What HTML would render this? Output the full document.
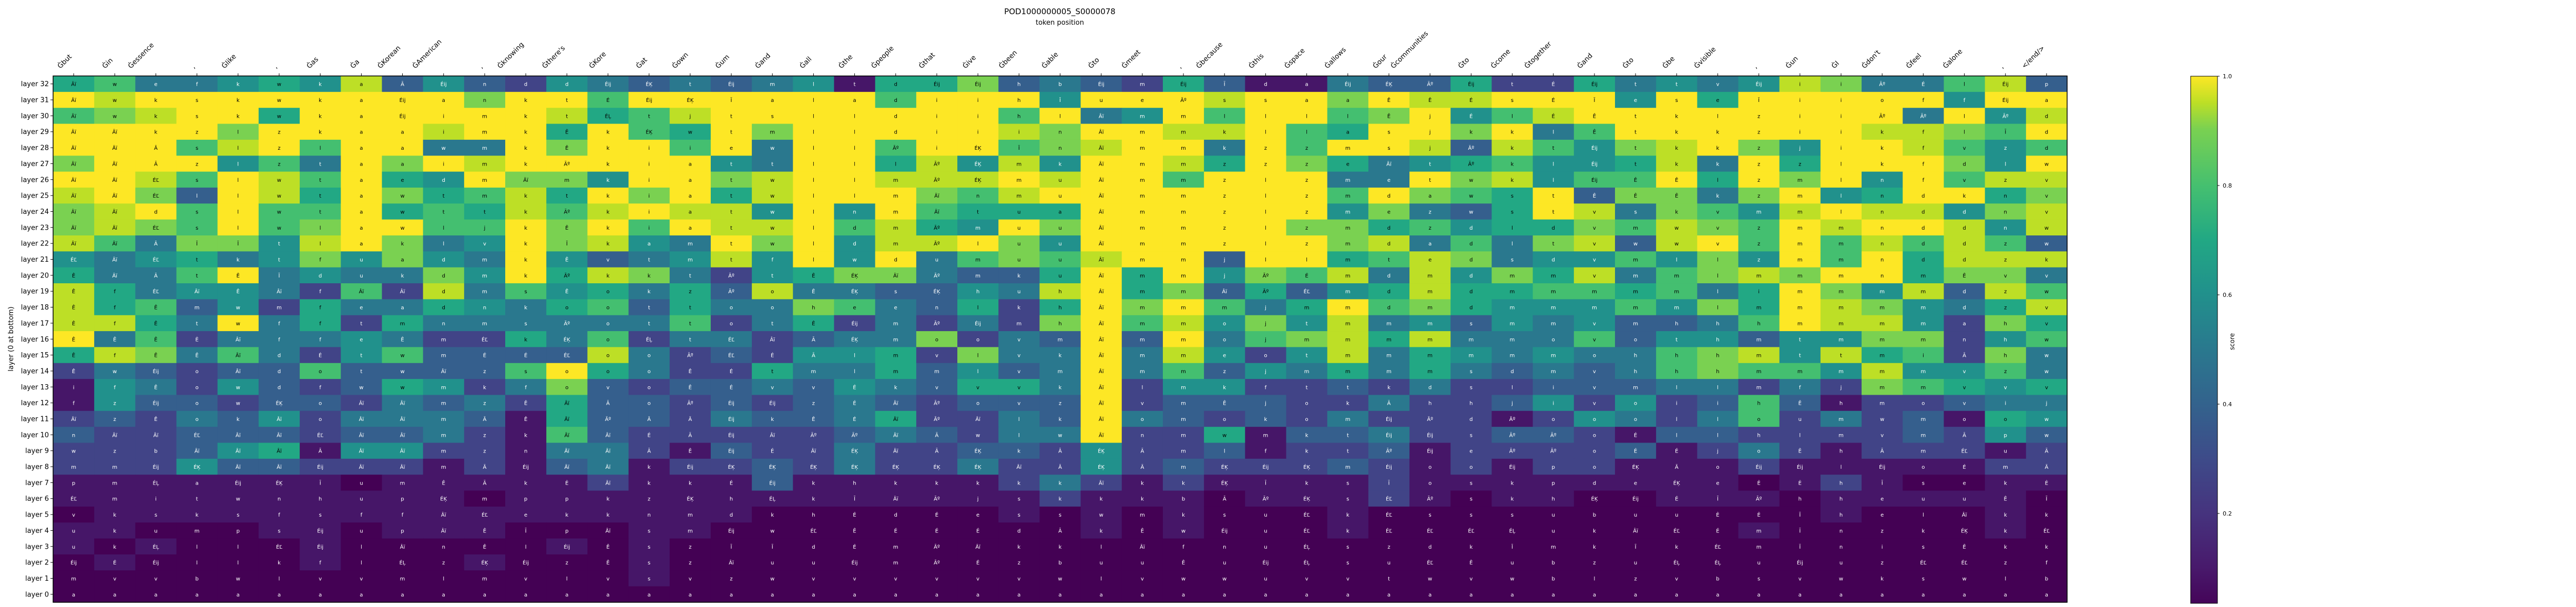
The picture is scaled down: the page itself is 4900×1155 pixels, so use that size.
<!DOCTYPE html>
<html><head><meta charset="utf-8"><style>
html,body{margin:0;padding:0;background:#fff;}
svg{display:block;font-family:"DejaVu Sans","Liberation Sans",sans-serif;}
</style></head><body>
<svg id="chart" width="4900" height="1155" viewBox="0 0 4900 1155" xmlns="http://www.w3.org/2000/svg">
<defs>
<linearGradient id="vir" x1="0" y1="1" x2="0" y2="0">
<stop offset="0" stop-color="#450559"/><stop offset="0.07" stop-color="#481a6c"/><stop offset="0.17" stop-color="#46337e"/><stop offset="0.27" stop-color="#3e4a89"/><stop offset="0.38" stop-color="#33638d"/><stop offset="0.48" stop-color="#2a788e"/><stop offset="0.59" stop-color="#21918c"/><stop offset="0.69" stop-color="#22a884"/><stop offset="0.79" stop-color="#44bf70"/><stop offset="0.9" stop-color="#7ad151"/><stop offset="0.95" stop-color="#bddf26"/><stop offset="1" stop-color="#fde725"/>
</linearGradient>
</defs>
<text x="2016" y="27" font-size="15" text-anchor="middle">POD1000000005_S0000078</text>
<text x="2016" y="47" font-size="13" text-anchor="middle">token position</text>
<text transform="translate(25,645) rotate(-90)" font-size="13" text-anchor="middle">layer (0 at bottom)</text>
<g id="cells"></g>
<g id="xticks"></g>
<g id="yticks"></g>
<rect x="101" y="144.5" width="3831" height="1001.5" fill="none" stroke="#000" stroke-width="1.5"/>
<rect x="4167" y="145" width="51" height="1003" fill="url(#vir)" stroke="#000" stroke-width="1"/>
<g id="cbticks"></g>
<text transform="translate(4250,650) rotate(-90)" font-size="12" text-anchor="middle">score</text>
</svg>
<script>
const tokens = ["Ġbut","Ġin","Ġessence",",","Ġlike",",","Ġas","Ġa","ĠKorean","ĠAmerican",",","Ġknowing","Ġthere's","ĠKore","Ġat","Ġown","Ġum","Ġand","Ġall","Ġthe","Ġpeople","Ġthat","Ġive","Ġbeen","Ġable","Ġto","Ġmeet",",","Ġbecause","Ġthis","Ġspace","Ġallows","Ġour","Ġcommunities","Ġto","Ġcome","Ġtogether","Ġand","Ġto","Ġbe","Ġvisible",",","Ġun","ĠI","Ġdon't","Ġfeel","Ġalone",",","</end/>"];
const layers = Array.from({length:33},(_,i)=>32-i);
// score rows, layer 32 first; digits are tenths, x = 1.0
const scoreRows = [
"67445659353254343"+"4516683432631143"+"3622645459844793",
"x9xxxxxxxx8xx7xxx"+"xxx7xxx5xxx9xx8x"+"99xxx5x6xxxxx5xx",
"789xx6xxxxxx9679x"+"xxxxxx7x45x7xx78"+"x579xxxxxxxx4x59",
"xxxx8xxxx9xx6x76x"+"8xxxxx98xx99x76x"+"x8x47xxxxxx9987x",
"xxx79x7xx44x8xx7x"+"4xx7xx789xx4x7xx"+"9397589x85xx9757",
"8xxx574x8x9xxxxx5"+"4xx69595xx96x864"+"56755694x6xxx85x",
"xx97x97x65x885xx8"+"9xx999x9xx7xxx44"+"x89577x6x8x5x799",
"9x83x96x86796x8x6"+"9xxx879xxxxxxx7x"+"876x38848x56xx68",
"89x7x77x676979x99"+"5x5x7666xxxxxx58"+"436x948759x99589",
"8987x78xx77x8x7x9"+"9x7965x8xxxxx886"+"756687987x9xx959",
"9748859x845x8954x"+"8x599x85xxxxxx89"+"4748939x7x797973",
"54564585854x53459"+"5x5x47879xx3xx67"+"984557585x7x6999",
"6447x454485x69842"+"56884336x6x58794"+"9586947898xx6884",
"96455427294756463"+"94433549x6836356"+"966776746x859397",
"96735264465467364"+"48743626x8x746x7"+"865557586x985469",
"9964x462644444472"+"46242428x7958594"+"535453347x995286",
"x4724445422647244"+"23448243x3x47896"+"9444735535588257",
"69847425733339423"+"25562844x4952594"+"6545447895967284",
"243233733337x6422"+"64463534x4735464"+"6434347877595574",
"15425323652483233"+"43543664x2552232"+"4223334424287656",
"15332332434263323"+"23432333x2333224"+"2235252373122344",
"23243524443163324"+"33462243x4323242"+"2212542472423165",
"32233323342173222"+"22343244x2261334"+"2233213322223253",
"22235615522144213"+"2242233252231223"+"1222231242122212",
"22253322212134122"+"3242242252322232"+"1212211121111122",
"11111110111112111"+"3111112421211112"+"1111111101210011",
"11111111110111111"+"1111111211101112"+"1011001110111110",
"01111111111111111"+"0000001010100010"+"0000000000100010",
"11000110111000110"+"0000000010100010"+"0000000010000010",
"10100010000010100"+"0000000000000000"+"0000000000000000",
"01000010001000100"+"0000000000000000"+"0000000000000000",
"00000000000000100"+"0000000000000000"+"0000000000000000",
"00000000000000000"+"0000000000000000"+"0000000000000000"
];
const cellText = [
"Âï w e f k w k a Ā Éij n d d Éij ÉĶ t Éij m l t d Éij Éij h b Éij m Éij Ī d a Éij ÉĶ Āº Éij t É Éij t t v Éij i i Āº É l Éij p",
"Âï w k s k w k a Éij a n k t É Éij ÉĶ Ī a l a d i i h Ī u e Āº s s a a Ê Ê É s É Ī e s e Ī i i o f f Éij a",
"Âï w k s k w k a Éij i m k t ÉĻ t j t s l l d i i h l Âï m m l l l l Ê j É l É Ê t k l z i i Āº Āº l Āº d",
"Âï Âï k z l z k a a i m k Ê k ÉĶ w t m l l d i i i n Âï m m k l l a s j k k l Ê t k k z i i k f l Ī d",
"Âï Âï Ā s l z l a a w m k Ê k i i e w l l Āº i ÉĶ Ī n Âï m m k z z m s j Āº k t Éij t k k z j i k f v z d",
"Âï Âï Ā z l z t a a i m k Āº k i a t t l l l Āº ÉĶ m k Âï m m z z z e Âï t Āº k l Éij t k k z z l k f d l w",
"Âï Âï ÉĽ s l w t a e d m Âï m k i a t w l l m Āº ÉĶ m u Âï m m z l z m e t w k l Éij Ê Ê l z m l n f v z v",
"Âï Âï ÉĽ l l w t a w t m k t k i a t w l l m Âï n m u Âï m m z l z m d a w s t Ê Ê Ê k z m l n d k n v",
"Âï Âï d s l w t a w t t k Āº k i a t w l n m Âï t u a Âï m m z l z m e z w s t v s k v m m l n d d n v",
"Âï Âï ÉĽ s l w l a w l j k Ê k i a t w l d m Āº m u u Âï m m z l z m d z d l d v m w v z m m n d d n w",
"Âï Âï Ā Ī Ī t l a k l v k Ī k a m t w l d m Āº l u u Âï m m z l z m d a d l t v w w v z m m n d d z w",
"ÉĽ Âï ÉĽ t k t f u a d m k Ê v t m t f l w d u m u u Âï m m j l l m t e d s d v m l l z m m n d d z k",
"Ê Âï Ā t Ê Ī d u k d m k Āº k k t Āº t Ê ÉĶ Âï Āº m k u Âï m m j Āº É m d m d m m v m m l m m m n m Ê v v",
"Ê f ÉĽ Âï Ê Âï f Âï Âï d m s Ê o k z Āº o Ê ÉĶ s ÉĶ h u h Âï m m Âï Āº ÉĽ m d m d m m m m m l i m m m m d z w",
"Ê f Ê m w m f e a d n k o o t t o o h e e n l k h Âï m m m j m m d m d m m m m m l m m m m m d z v",
"Ê f Ê t w f f t m n m s Āº o t t o t Ê Éij m Āº Éij m h Âï m m o j t m m m s m m v m h h h m m m m a h v",
"Ê Ê Ê Ė Âï f f e Ê m ÉĽ k ÉĶ o ÉĻ t ÉĽ Âï Ā ÉĶ m o o v m Âï m m o j m m m m m m o v o t h m t m m m n h w",
"Ê f Ê Ê Âï d É t w m É É ÉĽ o o Āº ÉĽ É Ā l m v l v k Âï m m e o t m m m m m m o h h h m t t m i Ā h w",
"Ê w Éij o Âï d o t w Âï z s o o o Ê É t m l m m l v m Âï m m z j m m m m s d m v h h h m m m m m v z w",
"i f Ê o w d f w w m k f o v o Ê É v v É k v v v k Âï l m k f t t k d s l i v m l l m f j m m v v v",
"f z Éij o w ÉĶ o Âï Âï m z Ê Âï Ā o Āº Éij Éij z É Âï Āº o v z Âï v m Ê j o k Ā h h j i v o i i h Ê h m o v i j",
"Âï z Ê o k Âï o Âï Âï m Ā Ê Âï Āº Ā Ā Éij k Ê É Âï Āº Âï l k Âï o m o k o m Éij Āº d Āº o o o l l o u m w m o o w",
"n Âï Âï ÉĽ Âï Âï ÉĽ Âï Âï m z k Âï Âï É Ā Éij Âï Āº Āº Âï Ā w l w Âï n m w m k t Éij Éij s Āº Āº o É l l h l m v m Ā p w",
"w z b Âï Âï Âï Ā Âï Âï m z n Âï Âï Ā Ê Éij É Âï ÉĶ Âï Ā ÉĶ k Ā ÉĶ Ā m l f k t Āº Éij e Āº Āº o É É j o Ê h Ā m ÉĽ u Ā",
"m m Éij ÉĶ Âï Âï Éij Âï Âï m Ā Éij Âï Âï k Éij ÉĶ ÉĶ ÉĶ ÉĶ ÉĶ ÉĶ ÉĶ Âï Ā ÉĶ Ā m ÉĶ Éij ÉĶ m Éij o o Éij p o ÉĶ Ā o Éij Éij l Éij o É m Ā",
"p m ÉĻ a Éij ÉĶ Ī u m Ê Ā k Ė Âï k k É Éij k h k k k k k Âï k k ÉĶ Ī k s Ī o s k p d e ÉĶ e Ė Ė h Ī s e k Ė",
"ÉĽ m i t w n h u p ÉĶ m p p k z ÉĶ h ÉĻ k Ī Âï Āº j s k k k b Ā Āº ÉĶ s ÉĽ Āº s k h ÉĶ Éij É Ī Āº h h e u u Ê Ī",
"v k s k s f s f f Âï ÉĽ e k k n m d k h É d É e s s w m k s u ÉĽ k ÉĽ s s s u b u u Ė Ė Ī h e l Âï k k",
"u k u m p s Éij u p Âï Ê Ī p Âï s m Éij w ÉĽ Ê É É É d Ā k Ê w Éij u ÉĽ k ÉĽ ÉĽ ÉĽ ÉĻ u k Âï ÉĽ É m Ī n z k ÉĶ k ÉĽ",
"u k ÉĻ l l ÉĽ Éij l Âï n Ê l Éij Ê s z Ī Ī d É m Āº Âï k k l Âï f n u ÉĻ s z d k Ī m k Ī k ÉĽ m Ī n i s Ê k k",
"Éij É Éij l l k f l ÉĻ z ÉĶ Éij z Ê s z Âï u u Éij m Āº É z b u u Ê u Éij ÉĻ s u ÉĽ Ê u b z u ÉĻ ÉĻ u Éij u z ÉĽ ÉĽ z f",
"m v v b w l v v m l m v l v s v z w v v v v v v w l v w w u v v t w v w b l z v b s v w k s w l b",
"a a a a a a a a a a a a a a a a a a a a a a a a a a a a a a a a a a a a a a a a a a a a a a a a a"
];
const cbTicks = [0.2,0.4,0.6,0.8,1.0];
const cbTickLabels = ["0.2","0.4","0.6","0.8","1.0"];

const NS="http://www.w3.org/2000/svg";
const X0=101, X1=3932, Y0=144.5, Y1=1146;
const cw=(X1-X0)/tokens.length, ch=(Y1-Y0)/layers.length;
const xPos = i => X0 + i*cw;
const yPos = r => Y0 + r*ch;
const stops=[[0,[68,1,84]],[0.1,[72,36,117]],[0.2,[65,68,135]],[0.3,[53,95,141]],[0.4,[42,120,142]],[0.5,[33,145,140]],[0.6,[34,168,132]],[0.7,[68,191,112]],[0.8,[122,209,81]],[0.9,[189,223,38]],[1,[253,231,37]]];
function viridis(v){v=Math.max(0,Math.min(1,v));for(let i=1;i<stops.length;i++){if(v<=stops[i][0]){const a=stops[i-1],b=stops[i];const t=(v-a[0])/(b[0]-a[0]);return 'rgb('+a[1].map((c,k)=>Math.round(c+(b[1][k]-c)*t)).join(',')+')';}}return 'rgb(253,231,37)';}
const parseVal = c => c==='x'?1.0:(c==='0'?0.0:(c==='1'?0.06:parseInt(c)/10));

const gC=document.getElementById('cells');
scoreRows.forEach((row,r)=>{
  const txt=cellText[r].split(' ');
  for(let i=0;i<tokens.length;i++){
    const v=parseVal(row[i]||'0');
    const rc=document.createElementNS(NS,'rect');
    rc.setAttribute('x',xPos(i));rc.setAttribute('y',yPos(r));
    rc.setAttribute('width',cw+0.6);rc.setAttribute('height',ch+0.6);
    rc.setAttribute('fill',viridis(v));
    
    
    gC.appendChild(rc);
    const t=document.createElementNS(NS,'text');
    t.setAttribute('x',xPos(i)+cw/2);t.setAttribute('y',yPos(r)+ch/2+4);
    t.setAttribute('font-size','10');t.setAttribute('text-anchor','middle');
    t.setAttribute('fill',v<0.55?'#fff':'#000');
    t.textContent=txt[i]||'';
    
    
    gC.appendChild(t);
  }
});
const gX=document.getElementById('xticks');
tokens.forEach((tk,i)=>{
  const cx=xPos(i)+cw/2;
  const tl=document.createElementNS(NS,'line');
  tl.setAttribute('x1',cx);tl.setAttribute('x2',cx);tl.setAttribute('y1',Y0-5);tl.setAttribute('y2',Y0);
  tl.setAttribute('stroke','#000');
  
  
  gX.appendChild(tl);
  const t=document.createElementNS(NS,'text');
  t.setAttribute('font-size','13');
  t.textContent=tk;
  
  
  gX.appendChild(t);
  const L=t.getComputedTextLength();
  const d=L*Math.SQRT1_2;
  const ax=cx-d-3, ay=131;
  t.setAttribute('transform','translate('+ax+','+ay+') rotate(-45)');
});
const gY=document.getElementById('yticks');
layers.forEach((ly,r)=>{
  const cy=yPos(r)+ch/2;
  const tl=document.createElementNS(NS,'line');
  tl.setAttribute('x1',X0-5);tl.setAttribute('x2',X0);tl.setAttribute('y1',cy);tl.setAttribute('y2',cy);
  tl.setAttribute('stroke','#000');
  
  
  gY.appendChild(tl);
  const t=document.createElementNS(NS,'text');
  t.setAttribute('x',X0-8);t.setAttribute('y',cy+4.5);
  t.setAttribute('font-size','13');t.setAttribute('text-anchor','end');
  t.textContent='layer '+ly;
  
  
  gY.appendChild(t);
});
const gB=document.getElementById('cbticks');
const cbY = v => 145 + (1.0-v)*1040;
cbTicks.forEach((v,i)=>{
  const y=cbY(v);
  const tl=document.createElementNS(NS,'line');
  tl.setAttribute('x1',4218);tl.setAttribute('x2',4222);tl.setAttribute('y1',y);tl.setAttribute('y2',y);
  tl.setAttribute('stroke','#000');
  
  
  gB.appendChild(tl);
  const t=document.createElementNS(NS,'text');
  t.setAttribute('x',4228);t.setAttribute('y',y+4);t.setAttribute('font-size','11');
  t.textContent=cbTickLabels[i];
  
  
  gB.appendChild(t);
});
</script>
</body></html>
